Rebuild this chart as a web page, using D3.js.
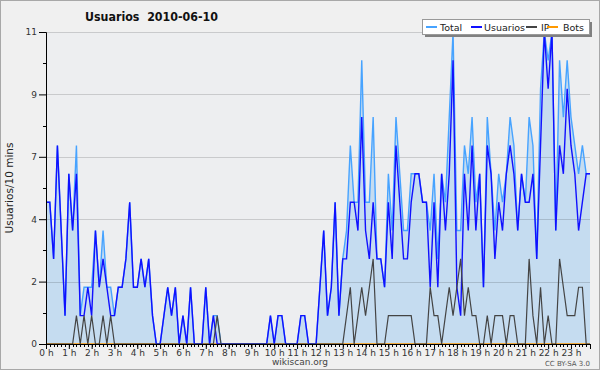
<!DOCTYPE html>
<html><head><meta charset="utf-8">
<script src="https://cdn.jsdelivr.net/npm/d3@7"></script>
<style>
html,body{margin:0;padding:0;background:#f0f0f0;}
svg{display:block;}
text{font-family:"DejaVu Sans",sans-serif;}
</style></head>
<body>
<svg id="chart" width="600" height="370"></svg>
<script>
// ---- data ----
const title = "Usuarios  2010-06-10";
const yLabel = "Usuarios/10 mins";
const hourLabels = ["0 h","1 h","2 h","3 h","4 h","5 h","6 h","7 h","8 h","9 h","10 h","11 h","12 h","13 h","14 h","15 h","16 h","17 h","18 h","19 h","20 h","21 h","22 h","23 h"];
const yTickValues = [0, 2.2, 4.4, 6.6, 8.8, 11];
const yTickLabels = ["0","2","4","7","9","11"];
const seriesNames = ["Total","Usuarios","IP","Bots"];
const seriesColors = ["#47a3ff","#1010ff","#444444","#ff9900"];
const total = [
 5,5,3,7,4,1,6,4,7,1, 2,2,2,4,2,4,2,2,1,2, 2,3,5,2,2,3,2,3,1,0, 0,1,2,1,2,0,1,0,2,0,
 0,0,2,0,1,1,0,0,0,0, 0,0,0,0,0,0,0,0,0,1, 0,1,1,0,0,0,0,1,1,0, 0,0,2,4,1,2,5,1,3,4,
 7,5,5,10,5,5,8,3,3,2, 6,4,8,6,4,4,6,6,6,5, 5,4,6,3,6,5,8,11,4,4, 7,6,8,5,6,2,8,6,4,6,
 5,6,8,7,4,6,5,8,7,3, 9,11,10,11,4,10,8,10,8,7, 6,7,6,6];
const usuarios = [
 5,5,3,7,4,1,6,4,6,1, 1,2,1,4,2,3,2,1,1,2, 2,3,5,2,2,3,2,3,1,0, 0,1,2,1,2,0,1,0,2,0,
 0,0,2,0,1,0,0,0,0,0, 0,0,0,0,0,0,0,0,0,1, 0,1,1,0,0,0,0,1,1,0, 0,0,2,4,1,2,5,1,3,3,
 5,5,4,8,4,3,5,3,3,2, 5,3,7,5,3,3,5,6,6,5, 5,2,5,2,6,4,6,10,2,1, 6,4,7,4,6,2,7,6,3,5,
 4,6,7,6,4,6,5,5,6,3, 7,11,9,11,4,7,6,9,7,6, 4,5,6,6];
const ip = [
 0,0,0,0,0,0,0,0,1,0, 1,0,1,0,0,1,0,1,0,0, 0,0,0,0,0,0,0,0,0,0, 0,0,0,0,0,0,0,0,0,0,
 0,0,0,0,0,1,0,0,0,0, 0,0,0,0,0,0,0,0,0,0, 0,0,0,0,0,0,0,0,0,0, 0,0,0,0,0,0,0,0,0,1,
 2,0,1,2,1,2,3,0,0,0, 1,1,1,1,1,1,1,0,0,0, 0,2,1,1,0,1,2,1,2,3, 1,2,1,1,0,0,1,0,1,1,
 1,0,1,1,0,0,0,3,1,0, 2,0,1,0,0,3,2,1,1,1, 2,2,0,0];
const bots = [
 0,0,0,0,0,0,0,0,0,0, 0,0,0,0,0,0,0,0,0,0, 0,0,0,0,0,0,0,0,0,0, 0,0,0,0,0,0,0,0,0,0,
 0,0,0,0,0,0,0,0,0,0, 0,0,0,0,0,0,0,0,0,0, 0,0,0,0,0,0,0,0,0,0, 0,0,0,0,0,0,0,0,0,0,
 0,0,0,0,0,0,0,0,0,0, 0,0,0,0,0,0,0,0,0,0, 0,0,0,0,0,0,0,0,0,0, 0,0,0,0,0,0,0,0,0,0,
 0,0,0,0,0,0,0,0,0,0, 0,0,0,0,0,0,0,0,0,0, 0,0,0,0];

// ---- layout ----
const svg = d3.select("#chart");
const L = 46, R = 590, T = 32, B = 344;
const x = d3.scaleLinear().domain([0, total.length - 1]).range([L, R]);
const y = d3.scaleLinear().domain([0, 11]).range([B, T]);

svg.append("rect").attr("x",0.5).attr("y",0.5).attr("width",599).attr("height",369)
  .attr("fill","#f0f0f0").attr("stroke","#a8a8a8");
svg.append("rect").attr("x",L).attr("y",T).attr("width",R-L).attr("height",B-T)
  .attr("fill","#edeef0");

// area
const area = d3.area().x((d,i)=>x(i)).y0(y(0)).y1(d=>y(d));
svg.append("path").datum(total).attr("d", area).attr("fill","#c5dcf0");

// gridlines
svg.append("g").selectAll("line").data(yTickValues.slice(1)).join("line")
  .attr("x1",L).attr("x2",R).attr("y1",d=>Math.round(y(d))+0.5).attr("y2",d=>Math.round(y(d))+0.5)
  .attr("stroke","rgba(0,0,0,0.15)").attr("stroke-width",1);

// lines
const line = d3.line().x((d,i)=>x(i)).y(d=>y(d));
const seriesData = [total, usuarios, ip, bots];
[3,0,1,2].forEach(k=>{
  svg.append("path").datum(seriesData[k]).attr("d", line).attr("fill","none")
    .style("stroke", seriesColors[k]).attr("stroke-width", k===2 ? 1.2 : 1.4)
    .attr("stroke-linejoin","miter");
});

// y axis
const yAxis = d3.axisLeft(y).tickValues(yTickValues).tickSize(7).tickPadding(2)
  .tickFormat((d,i)=>yTickLabels[i]);
const gy = svg.append("g").attr("transform",`translate(${L},0)`).call(yAxis);
gy.select(".domain").attr("stroke","#000");
gy.selectAll("text").attr("font-size","9px").attr("fill","#333").attr("font-family","DejaVu Sans");
const yMinor = d3.range(0, 11).map(k=>k*1.1).filter((d,k)=>k%2===1);
svg.append("g").selectAll("line").data(yMinor).join("line")
  .attr("x1",L-3).attr("x2",L).attr("y1",d=>Math.round(y(d))+0.5).attr("y2",d=>Math.round(y(d))+0.5)
  .attr("stroke","#000");

// x axis
const hourIdx = hourLabels.map((h,k)=>k*6);
const xAxis = d3.axisBottom(x).tickValues(hourIdx).tickSize(5).tickPadding(1)
  .tickFormat((d,i)=>hourLabels[i]);
const gx = svg.append("g").attr("transform",`translate(0,${B})`).call(xAxis);
gx.select(".domain").attr("stroke","#000");
gx.selectAll("text").attr("font-size","9px").attr("fill","#333").attr("font-family","DejaVu Sans");
svg.append("g").selectAll("line").data(d3.range(total.length)).join("line")
  .attr("x1",d=>Math.round(x(d))+0.5).attr("x2",d=>Math.round(x(d))+0.5)
  .attr("y1",B).attr("y2",B+3).attr("stroke","#000");

// y label
svg.append("text").attr("transform","translate(13,188) rotate(-90)")
  .attr("text-anchor","middle").attr("font-family","DejaVu Sans Mono")
  .attr("font-size","10.5px").attr("fill","#222").text(yLabel);

// title
svg.append("text").attr("x",85).attr("y",21).attr("font-weight","bold")
  .attr("font-family","DejaVu Sans Condensed").attr("font-size","12px").attr("fill","#111")
  .attr("textLength",133).attr("lengthAdjust","spacingAndGlyphs")
  .style("white-space","pre").text(title);

// footer
svg.append("text").attr("x",300).attr("y",365).attr("text-anchor","middle")
  .attr("font-size","9px").attr("fill","#444").text("wikiscan.org");
svg.append("text").attr("x",590).attr("y",366).attr("text-anchor","end")
  .attr("font-size","7px").attr("fill","#555").text("CC BY-SA 3.0");

// legend
const lg = svg.append("g");
lg.append("rect").attr("x",425).attr("y",22).attr("width",167).attr("height",15).attr("fill","#808080");
lg.append("rect").attr("x",422.5).attr("y",19.5).attr("width",167).attr("height",15)
  .attr("fill","#fff").attr("stroke","#999");
const legendX = [426, 471, 526, 547];
const legendTX = [440, 484, 541, 563];
seriesNames.forEach((n,k)=>{
  lg.append("line").attr("x1",legendX[k]).attr("x2",legendX[k]+11).attr("y1",27).attr("y2",27)
    .style("stroke",seriesColors[k]).attr("stroke-width",2);
  lg.append("text").attr("x",legendTX[k]).attr("y",31).attr("font-size","9.5px")
    .attr("font-family","DejaVu Sans Condensed").attr("fill","#222").text(n);
});
</script>
</body></html>
